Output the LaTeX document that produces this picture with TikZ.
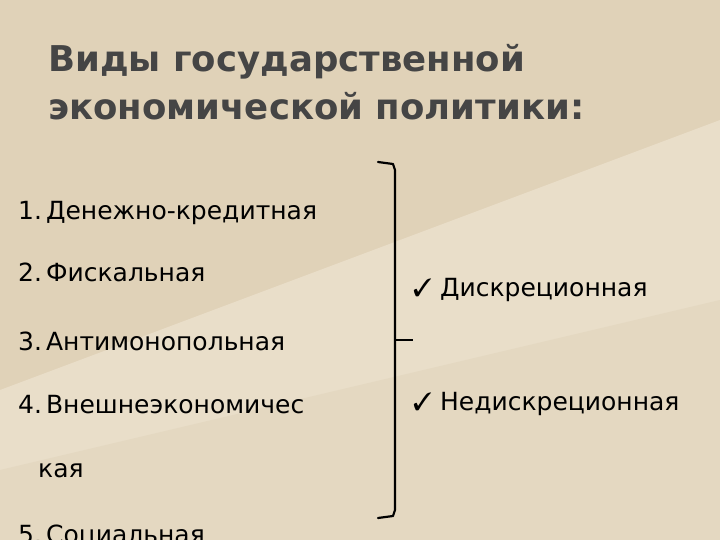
\documentclass[tikz,border=0pt]{standalone}
\usepackage{fontspec}
\setmainfont{DejaVu Sans}
\newfontfamily\titlefont{DejaVu Sans}
\usepackage{pifont}
\definecolor{bgA}{HTML}{E0D2B8}
\definecolor{bgB}{HTML}{E9DEC9}
\definecolor{ttl}{HTML}{454545}
\begin{document}
\begin{tikzpicture}[x=1pt,y=-1pt,
  item/.style={anchor=base west,inner sep=0pt,font=\fontsize{25}{30}\selectfont,text=black},
  ttlstyle/.style={anchor=base west,inner sep=0pt,font=\titlefont\bfseries\fontsize{35.5}{40}\selectfont},
  brk/.style={line width=2.2pt,black}]
\useasboundingbox (0,0) rectangle (720,540);
\fill[bgA] (0,0) rectangle (720,540);
\fill[bgB] (0,390) -- (720,120) -- (720,540) -- (0,540) -- cycle;
\fill[bgA!50!bgB] (0,470) -- (720,300) -- (720,540) -- (0,540) -- cycle;
\node[ttlstyle,text=ttl] (t1) at (48,72) {Виды государственной};
\node[ttlstyle,text=ttl] (t2) at (48,120) {экономической политики:};
\node[item] (i1) at (18,219) {1.\hspace{4pt}Денежно-кредитная};
\node[item] (i2) at (18,281) {2.\hspace{4pt}Фискальная};
\node[item] (i3) at (18,350) {3.\hspace{4pt}Антимонопольная};
\node[item] (i4) at (18,413) {4.\hspace{4pt}Внешнеэкономичес};
\node[item] (i4b) at (38,477) {кая};
\node[item] (i5) at (18,543) {5.\hspace{4pt}Социальная};
\node[item] (r1) at (413,296) {\ding{51}\hspace{8pt}Дискреционная};
\node[item] (r2) at (413,410) {\ding{51}\hspace{8pt}Недискреционная};
\coordinate (bt) at (378,162);
\coordinate (bb) at (378,518);
\coordinate (bm) at (413,340);
\draw[brk,line cap=round,line join=round] (bt) -- (393,164) -- (395,170) -- (395,510) -- (393,516) -- (bb);
\draw[brk] (395,340) -- (bm);
\end{tikzpicture}
\end{document}
